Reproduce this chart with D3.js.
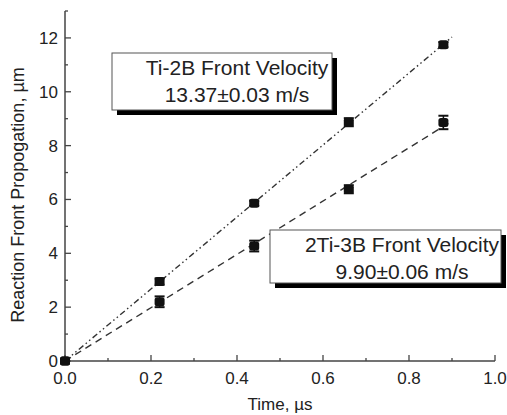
<!DOCTYPE html>
<html>
<head>
<meta charset="utf-8">
<script src="https://cdn.jsdelivr.net/npm/d3@7"></script>
<style>
  body { margin: 0; background: #fff; }
  text { font-family: "Liberation Sans", Arial, sans-serif; fill: #222; }
</style>
</head>
<body>
<script>
// measured times (us) and front positions (um)
var times = [0, 0.22, 0.44, 0.66, 0.88];
var ti2b = [0, 2.95, 5.86, 8.87, 11.75];
var ti2bErr = [0, 0.12, 0.1, 0.15, 0.1];
var ti3b = [0, 2.2, 4.27, 6.38, 8.86];
var ti3bErr = [0, 0.2, 0.2, 0.15, 0.25];
// fitted velocities (um/us == m/s)
var slopes = [13.37, 9.90];
var fitEnd = 0.9;
var xTicks = [0, 0.2, 0.4, 0.6, 0.8, 1.0];
var yTicks = [0, 2, 4, 6, 8, 10, 12];
var labels = [
  ["Ti-2B Front Velocity", "13.37\u00b10.03 m/s"],
  ["2Ti-3B Front Velocity", "9.90\u00b10.06 m/s"]
];

var W = 507, H = 415;
var svg = d3.select("body").append("svg").attr("width", W).attr("height", H);

var x = d3.scaleLinear().domain([0, 1]).range([65, 495]);
var y = d3.scaleLinear().domain([0, 13]).range([361, 11]);

// axes
var axCol = "#444";
svg.append("line").attr("x1", x(0)).attr("x2", x(1)).attr("y1", y(0)).attr("y2", y(0))
    .attr("stroke", axCol).attr("stroke-width", 1.5);
svg.append("line").attr("x1", x(0)).attr("x2", x(0)).attr("y1", y(0)).attr("y2", y(13))
    .attr("stroke", axCol).attr("stroke-width", 1.5);

var xMinor = d3.range(0, 1.001, 0.1);
svg.selectAll(".xt").data(xMinor).enter().append("line")
    .attr("x1", function (d) { return x(d); }).attr("x2", function (d) { return x(d); })
    .attr("y1", y(0)).attr("y2", function (d, i) { return y(0) - (i % 2 ? 3 : 6); })
    .attr("stroke", axCol).attr("stroke-width", 1.3);
var yMinor = d3.range(0, 13.001, 1);
svg.selectAll(".yt").data(yMinor).enter().append("line")
    .attr("y1", function (d) { return y(d); }).attr("y2", function (d) { return y(d); })
    .attr("x1", x(0)).attr("x2", function (d, i) { return x(0) + (i % 2 ? 3 : 6); })
    .attr("stroke", axCol).attr("stroke-width", 1.3);

svg.selectAll(".xl").data(xTicks).enter().append("text")
    .attr("x", function (d) { return x(d); }).attr("y", 384)
    .attr("text-anchor", "middle").attr("font-size", 17)
    .text(function (d) { return d3.format(".1f")(d); });
svg.selectAll(".yl").data(yTicks).enter().append("text")
    .attr("x", 58).attr("y", function (d) { return y(d) + 6; })
    .attr("text-anchor", "end").attr("font-size", 17)
    .text(function (d) { return d; });

svg.append("text").attr("x", x(0.5)).attr("y", 410).attr("text-anchor", "middle")
    .attr("font-size", 17).text("Time, \u00b5s");
svg.append("text").attr("transform", "translate(24," + 195 + ") rotate(-90)")
    .attr("text-anchor", "middle").attr("font-size", 18)
    .text("Reaction Front Propogation, \u00b5m");

// fitted lines
var dashes = ["6,3,1.5,3,1.5,3", "7,5"];
slopes.forEach(function (s, k) {
    svg.append("line").attr("x1", x(0)).attr("y1", y(0))
        .attr("x2", x(fitEnd)).attr("y2", y(s * fitEnd))
        .attr("stroke", "#333").attr("stroke-width", 1.4)
        .attr("stroke-dasharray", dashes[k]);
});

// data points with error bars
function drawSeries(vals, errs) {
    var g = svg.append("g");
    times.forEach(function (t, i) {
        var cx = x(t), cy = y(vals[i]);
        var e = errs[i];
        g.append("line").attr("x1", cx).attr("x2", cx)
            .attr("y1", y(vals[i] - e)).attr("y2", y(vals[i] + e))
            .attr("stroke", "#111").attr("stroke-width", 1.5);
        [vals[i] - e, vals[i] + e].forEach(function (v) {
            g.append("line").attr("x1", cx - 5).attr("x2", cx + 5)
                .attr("y1", y(v)).attr("y2", y(v))
                .attr("stroke", "#111").attr("stroke-width", 2);
        });
        g.append("rect").attr("x", cx - 5).attr("y", cy - 4.5)
            .attr("width", 10).attr("height", 9).attr("rx", 2.5)
            .attr("fill", "#111");
    });
}
drawSeries(ti2b, ti2bErr);
drawSeries(ti3b, ti3bErr);

// annotation boxes
var boxes = [
    { x0: 112, y0: 53, w: 220, h: 57, cx: 237, ty: 75 },
    { x0: 270, y0: 230, w: 231, h: 53, cx: 402, ty: 252 }
];
boxes.forEach(function (b, k) {
    svg.append("rect").attr("x", b.x0 + 5).attr("y", b.y0 + 5)
        .attr("width", b.w).attr("height", b.h).attr("fill", "#000");
    svg.append("rect").attr("x", b.x0).attr("y", b.y0)
        .attr("width", b.w).attr("height", b.h)
        .attr("fill", "#fff").attr("stroke", "#555").attr("stroke-width", 1);
    labels[k].forEach(function (t, j) {
        svg.append("text").attr("x", b.cx).attr("y", b.ty + j * 27)
            .attr("text-anchor", "middle").attr("font-size", 21).text(t);
    });
});
</script>
</body>
</html>
